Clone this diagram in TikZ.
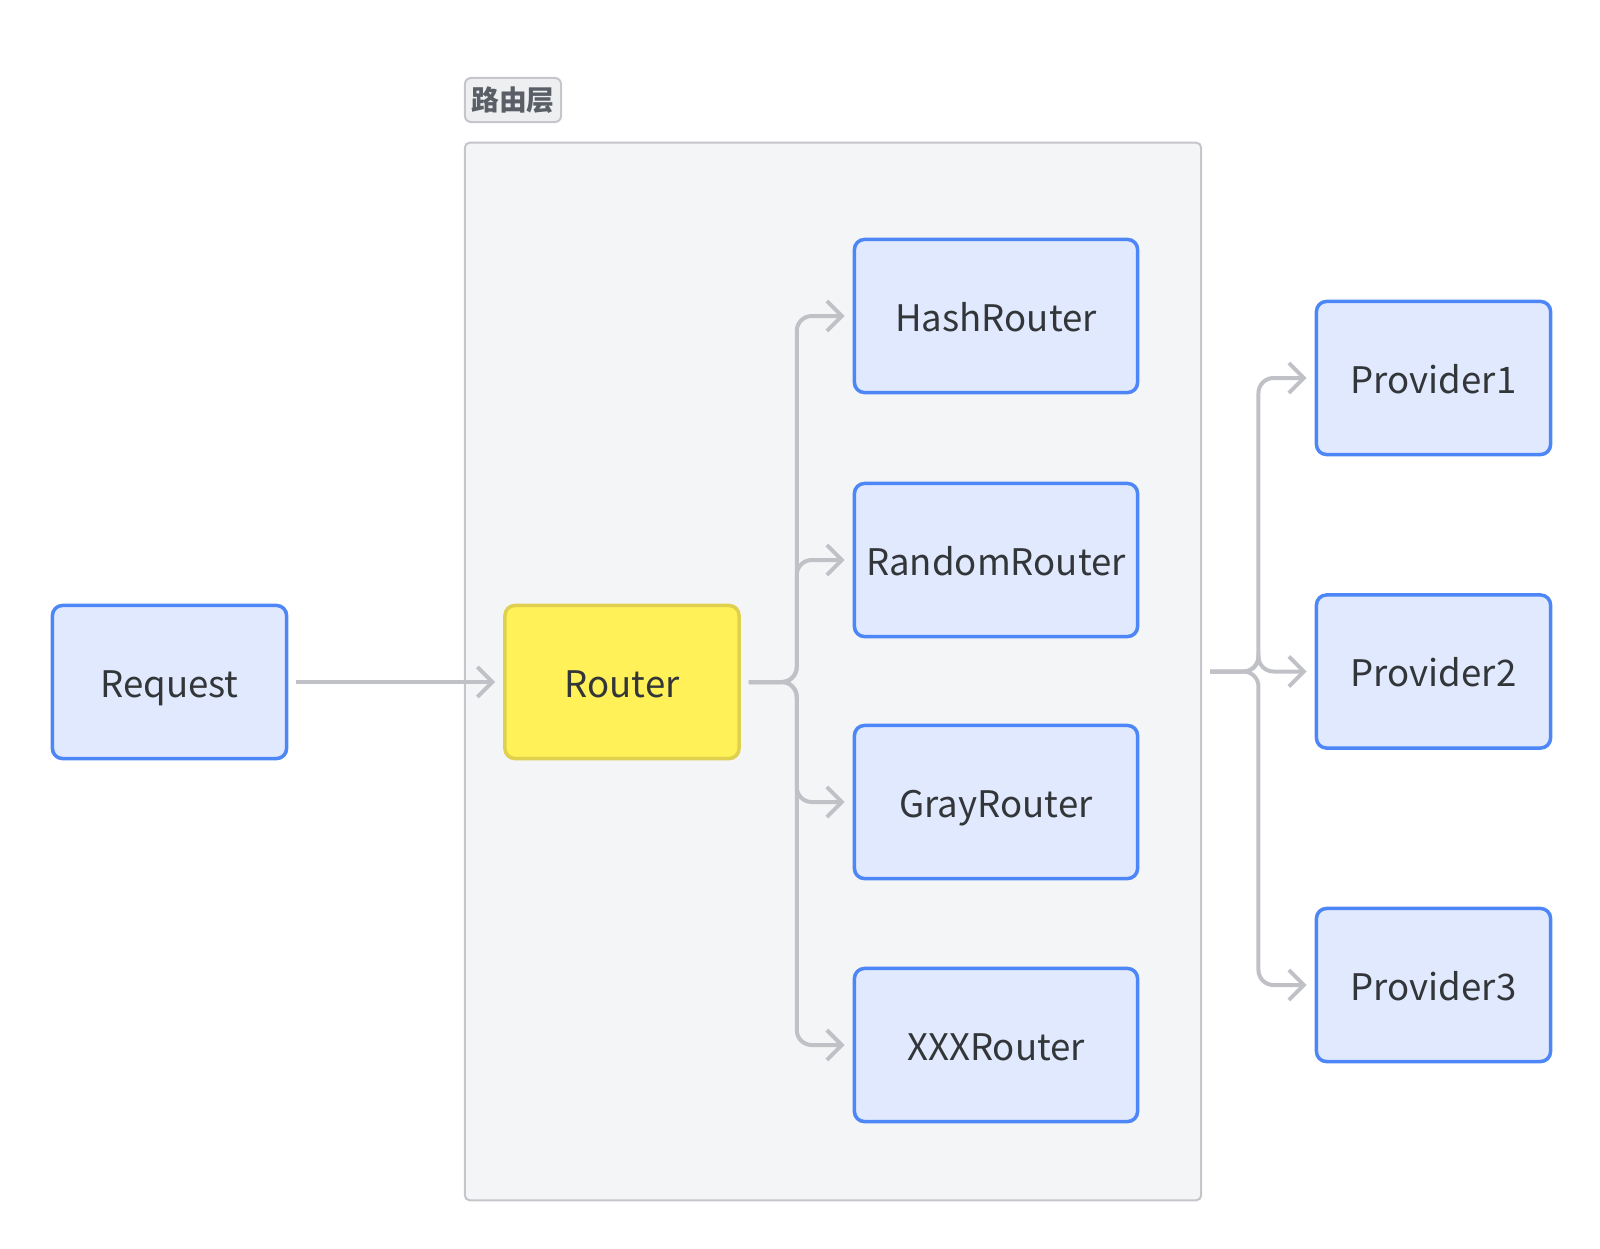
\documentclass[tikz,border=0pt]{standalone}
\usepackage{fontspec}
\setmainfont{Noto Sans CJK SC}
\usetikzlibrary{arrows.meta,positioning,calc}

\definecolor{bluedraw}{HTML}{4D86F7}
\definecolor{bluefill}{HTML}{E1E9FE}
\definecolor{ylwdraw}{HTML}{DFD04E}
\definecolor{ylwfill}{HTML}{FFF157}
\definecolor{linkgray}{HTML}{BFC1C6}
\definecolor{grpdraw}{HTML}{C4C6CB}
\definecolor{grpfill}{HTML}{F4F5F7}
\definecolor{tagfill}{HTML}{EEEFF1}
\definecolor{tagtext}{HTML}{5A5E66}
\definecolor{txt}{HTML}{333639}

\tikzset{   boxblue/.style={draw=bluedraw,fill=bluefill,rounded corners=0.1cm,line width=0.035cm,minimum width=2.34cm,minimum height=1.53cm,inner sep=1pt,text height=0.98em,text depth=0.1em,text=txt,font=\fontsize{10.4}{13}\selectfont},
            boxyellow/.style={boxblue,draw=ylwdraw,fill=ylwfill},
            boxwide/.style={boxblue,minimum width=2.83cm},
            layerbox/.style={draw=grpdraw,fill=grpfill,rounded corners=0.05cm,line width=0.02cm,minimum width=7.36cm,minimum height=10.57cm},
            tagbox/.style={draw=grpdraw,fill=tagfill,rounded corners=0.06cm,line width=0.02cm,minimum width=0.96cm,minimum height=0.44cm,inner sep=0pt,text=tagtext,font=\fontsize{7.9}{9}\selectfont\bfseries},
            link/.style={draw=linkgray,line width=0.04cm,rounded corners=0.15cm,-{Straight Barb[length=0.15cm,width=0.3cm]},shorten >=0.08cm,shorten <=0.08cm},
}

\begin{document}
\begin{tikzpicture}[x=0.01cm,y=-0.01cm]
    \useasboundingbox (0,0) rectangle (1600,1248);

    \node[layerbox] (layer) at (833,671.5) {}; % group
    \node[tagbox] (tag) at (513,100) {路由层};

    \node[boxblue] (req) at (169.5,682) {Request}; % nodes
    \node[boxyellow] (router) at (622,682) {Router};

    \node[boxwide] (hash) at (996,316) {HashRouter};
    \node[boxwide] (random) at (996,560) {RandomRouter};
    \node[boxwide] (gray) at (996,802) {GrayRouter};
    \node[boxwide] (xxx) at (996,1045) {XXXRouter};

    \node[boxblue] (p1) at (1433.5,378) {Provider1};
    \node[boxblue] (p2) at (1433.5,671.5) {Provider2};
    \node[boxblue] (p3) at (1433.5,985) {Provider3};

    \draw[link] (req.east) -- (router.west); % links

    \coordinate (rtrunk) at ($(router.east)!0.5!(hash.west)$);
    \foreach \r in {hash,random,gray,xxx}
        \draw[link] (router.east) -| (rtrunk |- \r.west) -- (\r.west);

    \coordinate (ptrunk) at ($(layer.east)!0.5!(p1.west)$);
    \foreach \p in {p1,p2,p3}
        \draw[link] (layer.east) -| (ptrunk |- \p.west) -- (\p.west);
\end{tikzpicture}
\end{document}
